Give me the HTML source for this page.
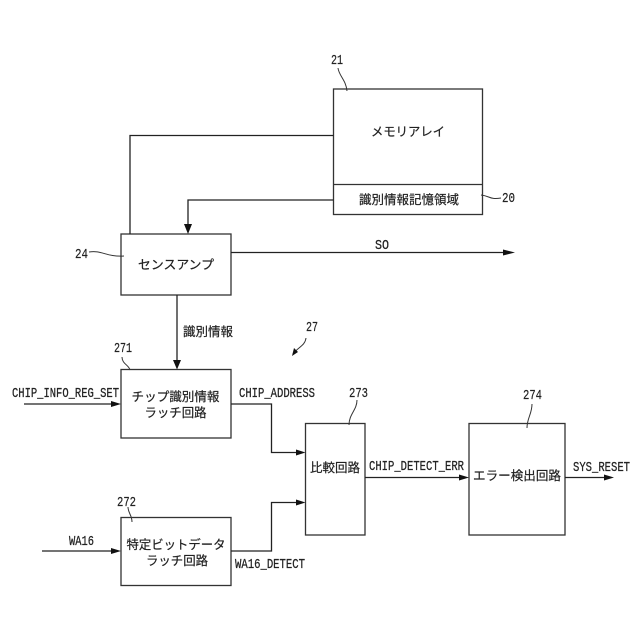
<!DOCTYPE html>
<html lang="ja">
<head>
<meta charset="utf-8">
<title>Diagram</title>
<style>
html,body{margin:0;padding:0;background:#fff;width:640px;height:640px;overflow:hidden}
svg{display:block}
text{font-family:"Liberation Sans","Noto Sans CJK JP",sans-serif;fill:#222}
.j{font-size:12.5px;stroke:#222;stroke-width:.2}
.l{font-family:"Liberation Mono",monospace;font-size:13.5px;stroke:#222;stroke-width:.25}
.n{font-family:"Liberation Mono",monospace;font-size:13.5px;stroke:#222;stroke-width:.2}
.b{fill:none;stroke:#333;stroke-width:1.3}
.w{fill:none;stroke:#222;stroke-width:1.3}
.c{fill:none;stroke:#333;stroke-width:1}
.a{fill:#111;stroke:none}
</style>
</head>
<body>
<svg width="640" height="640" viewBox="0 0 640 640" xmlns="http://www.w3.org/2000/svg">
<rect width="640" height="640" fill="#fff"/>

<!-- boxes -->
<rect class="b" x="333.5" y="89" width="149" height="125.5"/>
<line class="b" x1="333.5" y1="184.5" x2="482.5" y2="184.5"/>
<rect class="b" x="121" y="234" width="110" height="61"/>
<rect class="b" x="121" y="369.5" width="110" height="68.5"/>
<rect class="b" x="121" y="517.5" width="110" height="68"/>
<rect class="b" x="305.5" y="423.5" width="59.5" height="111.5"/>
<rect class="b" x="469" y="423.5" width="96" height="111.5"/>

<!-- wires -->
<polyline class="w" points="333.5,135.5 130,135.5 130,234"/>
<polyline class="w" points="333.5,200 188,200 188,226"/>
<polygon class="a" points="184,224 192,224 188,234"/>
<line class="w" x1="231" y1="252.5" x2="506" y2="252.5"/>
<polygon class="a" points="503,249.5 515,252.5 503,255.5"/>
<line class="w" x1="177" y1="295" x2="177" y2="362"/>
<polygon class="a" points="173,360 181,360 177,369.5"/>
<line class="w" x1="24" y1="404" x2="113" y2="404"/>
<polygon class="a" points="111,401 121,404 111,407"/>
<polyline class="w" points="231,404 271.5,404 271.5,452.5 298,452.5"/>
<polygon class="a" points="296,449.5 305.5,452.5 296,455.5"/>
<line class="w" x1="42" y1="551" x2="113" y2="551"/>
<polygon class="a" points="111,548 121,551 111,554"/>
<polyline class="w" points="231,551 271.5,551 271.5,502.5 298,502.5"/>
<polygon class="a" points="296,499.5 305.5,502.5 296,505.5"/>
<line class="w" x1="365" y1="477.5" x2="462" y2="477.5"/>
<polygon class="a" points="459,474.5 469,477.5 459,480.5"/>
<line class="w" x1="565" y1="477.5" x2="607" y2="477.5"/>
<polygon class="a" points="604,474.5 614,477.5 604,480.5"/>

<!-- leader curves -->
<path class="c" d="M338,68 C339,76 346,80 347,91"/>
<path class="c" d="M481,195 C490,196 490,200 501,198"/>
<path class="c" d="M89,252 C102,250 106,257 124,256"/>
<path class="c" d="M122,357 C122,364 129,365 130,370"/>
<path class="c" d="M128,507 C128,513 132,515 132,522"/>
<path class="c" d="M357,400 C357,410 349,414 349,425"/>
<path class="c" d="M532,404 C532,414 527,418 527,428"/>
<path class="c" d="M306,338 C305,346 298,347 293,354"/>
<polygon class="a" points="292,356 294,348 298,352"/>

<!-- Japanese labels -->
<text class="j" x="408" y="136" text-anchor="middle" textLength="74" lengthAdjust="spacingAndGlyphs">メモリアレイ</text>
<text class="j" x="409" y="204" text-anchor="middle" textLength="100" lengthAdjust="spacingAndGlyphs">識別情報記憶領域</text>
<text class="j" x="176" y="269" text-anchor="middle" textLength="76" lengthAdjust="spacingAndGlyphs">センスアンプ</text>
<text class="j" x="183" y="336" textLength="50" lengthAdjust="spacingAndGlyphs">識別情報</text>
<text class="j" x="175.500" y="401" text-anchor="middle" textLength="88" lengthAdjust="spacingAndGlyphs">チップ識別情報</text>
<text class="j" x="175.500" y="417" text-anchor="middle" textLength="62" lengthAdjust="spacingAndGlyphs">ラッチ回路</text>
<text class="j" x="176" y="549" text-anchor="middle" textLength="99" lengthAdjust="spacingAndGlyphs">特定ビットデータ</text>
<text class="j" x="177" y="565" text-anchor="middle" textLength="62" lengthAdjust="spacingAndGlyphs">ラッチ回路</text>
<text class="j" x="335" y="472" text-anchor="middle" textLength="50" lengthAdjust="spacingAndGlyphs">比較回路</text>
<text class="j" x="517" y="480" text-anchor="middle" textLength="88" lengthAdjust="spacingAndGlyphs">エラー検出回路</text>

<!-- signal labels -->
<text class="l" x="375" y="249" textLength="14" lengthAdjust="spacingAndGlyphs">SO</text>
<text class="l" x="12" y="397" textLength="107" lengthAdjust="spacingAndGlyphs">CHIP_INFO_REG_SET</text>
<text class="l" x="239" y="397" textLength="76" lengthAdjust="spacingAndGlyphs">CHIP_ADDRESS</text>
<text class="l" x="69" y="545" textLength="25" lengthAdjust="spacingAndGlyphs">WA16</text>
<text class="l" x="235" y="568" textLength="70" lengthAdjust="spacingAndGlyphs">WA16_DETECT</text>
<text class="l" x="369" y="470" textLength="95" lengthAdjust="spacingAndGlyphs">CHIP_DETECT_ERR</text>
<text class="l" x="573" y="471" textLength="57" lengthAdjust="spacingAndGlyphs">SYS_RESET</text>

<!-- reference numbers -->
<text class="n" x="331" y="64" textLength="12" lengthAdjust="spacingAndGlyphs">21</text>
<text class="n" x="502" y="202" textLength="13" lengthAdjust="spacingAndGlyphs">20</text>
<text class="n" x="75" y="258" textLength="13" lengthAdjust="spacingAndGlyphs">24</text>
<text class="n" x="114" y="352" textLength="18" lengthAdjust="spacingAndGlyphs">271</text>
<text class="n" x="306" y="331" textLength="12" lengthAdjust="spacingAndGlyphs">27</text>
<text class="n" x="117" y="506" textLength="19" lengthAdjust="spacingAndGlyphs">272</text>
<text class="n" x="349" y="397" textLength="19" lengthAdjust="spacingAndGlyphs">273</text>
<text class="n" x="523" y="399" textLength="19" lengthAdjust="spacingAndGlyphs">274</text>
</svg>
</body>
</html>
